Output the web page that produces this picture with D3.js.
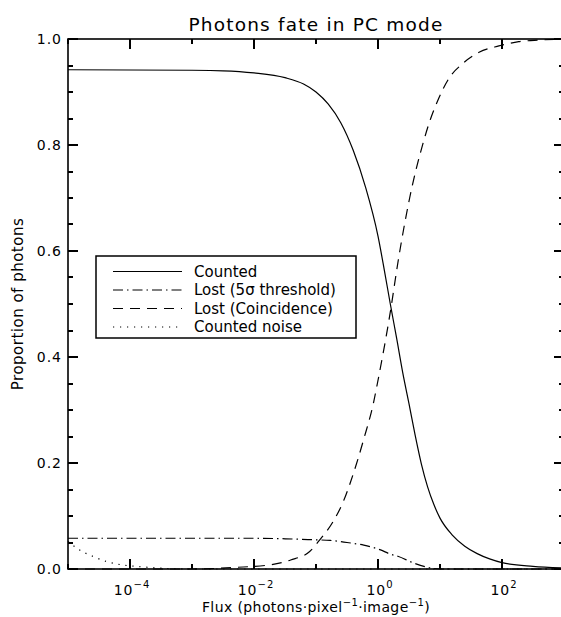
<!DOCTYPE html>
<html>
<head>
<meta charset="utf-8">
<script src="https://cdn.jsdelivr.net/npm/d3@7"></script>
<style>
  html, body { margin: 0; background: #fff; overflow: hidden; }
  text { font-family: "DejaVu Sans", sans-serif; fill: #000; }
</style>
</head>
<body>
<div id="chart"></div>
<script>
// values (flux in photons/pixel/image, proportion)
var countedFlux = [1e-5, 1e-3, 3.16e-3, 1e-2, 3.16e-2, 6.3e-2, 0.1, 0.158, 0.251, 0.398, 0.631, 1, 1.26, 1.58, 2.0, 2.51, 3.16, 3.98, 5.01, 6.31, 7.94, 10, 15.8, 25.1, 39.8, 63.1, 100, 316, 1000];
var countedVal  = [0.942, 0.941, 0.940, 0.936, 0.927, 0.915, 0.900, 0.877, 0.842, 0.790, 0.720, 0.628, 0.565, 0.50, 0.435, 0.37, 0.312, 0.252, 0.198, 0.155, 0.122, 0.096, 0.064, 0.043, 0.029, 0.019, 0.012, 0.005, 0.002];

var lostFlux = [1e-5, 1e-2, 3.2e-2, 0.1, 0.17, 0.316, 0.589, 1.1, 1.58, 2.09, 3.8, 7.08, 10, 1000];
var lostVal  = [0.058, 0.058, 0.057, 0.055, 0.054, 0.05, 0.045, 0.036, 0.028, 0.024, 0.011, 0.002, 0.0, 0.0];

var coincFlux = [1e-5, 1e-3, 5e-3, 1.86e-2, 3.9e-2, 7.9e-2, 0.115, 0.19, 0.282, 0.363, 0.589, 0.851, 0.977, 1.58, 2.14, 3.24, 5.5, 7.08, 9.55, 13.8, 23.4, 42.7, 89.1, 186, 398, 1000];
var coincVal  = [0.0, 0.0, 0.003, 0.008, 0.017, 0.033, 0.055, 0.09, 0.13, 0.165, 0.245, 0.315, 0.35, 0.485, 0.585, 0.70, 0.809, 0.85, 0.888, 0.925, 0.954, 0.975, 0.987, 0.995, 0.998, 1.0];

var noiseFlux = [1e-5, 1.58e-5, 2.5e-5, 4.2e-5, 7.2e-5, 1.26e-4, 2.7e-4, 1e-3, 1000];
var noiseVal  = [0.052, 0.035, 0.024, 0.014, 0.008, 0.005, 0.002, 0.0, 0.0];

var xMajor = [1e-4, 1e-2, 1, 100];
var xMinor = [1e-5, 1e-3, 1e-1, 10, 1000];
var xLabelExp = ["\u22124", "\u22122", "0", "2"];
var yMajor = [0, 0.2, 0.4, 0.6, 0.8, 1.0];
var yMinor = [0.05, 0.1, 0.15, 0.25, 0.3, 0.35, 0.45, 0.5, 0.55, 0.65, 0.7, 0.75, 0.85, 0.9, 0.95];

var seriesNames = ["Counted", "Lost (5\u03c3 threshold)", "Lost (Coincidence)", "Counted noise"];
var dashes = [null, "10,4,1.5,4", "10,7", "1.2,5.8"];

var W = 561, H = 617;
// plot box: the right axis sits just past the window edge, as in the picture
var pL = 68, pR = 564, pT = 39, pB = 569;

var svg = d3.select('#chart').append('svg')
  .attr('width', W).attr('height', H)
  .style('display', 'block');

var x = d3.scaleLog().domain([1e-5, 1e3]).range([pL, pR]);
var y = d3.scaleLinear().domain([0, 1]).range([pB, pT]);

// ticks point inward (IDL style) on all four sides
var ticks = svg.append('g')
  .attr('stroke', '#000').attr('stroke-width', 1.6)
  .attr('shape-rendering', 'crispEdges');
function xTicks(vals, len) {
  ticks.selectAll(null).data(vals).enter().append('line')
    .attr('x1', function(d) { return Math.round(x(d)); })
    .attr('x2', function(d) { return Math.round(x(d)); })
    .attr('y1', pB).attr('y2', pB - len);
  ticks.selectAll(null).data(vals).enter().append('line')
    .attr('x1', function(d) { return Math.round(x(d)); })
    .attr('x2', function(d) { return Math.round(x(d)); })
    .attr('y1', pT).attr('y2', pT + len);
}
function yTicks(vals, len) {
  ticks.selectAll(null).data(vals).enter().append('line')
    .attr('y1', function(d) { return Math.round(y(d)); })
    .attr('y2', function(d) { return Math.round(y(d)); })
    .attr('x1', pL).attr('x2', pL + len);
  ticks.selectAll(null).data(vals).enter().append('line')
    .attr('y1', function(d) { return Math.round(y(d)); })
    .attr('y2', function(d) { return Math.round(y(d)); })
    .attr('x1', pR).attr('x2', pR - len);
}
xTicks(xMajor, 10);
xTicks(xMinor, 5);
yTicks(yMajor, 10);
yTicks(yMinor, 5);

// frame
svg.append('rect')
  .attr('x', pL).attr('y', pT)
  .attr('width', pR - pL).attr('height', pB - pT)
  .attr('fill', 'none').attr('stroke', '#000').attr('stroke-width', 1.6);

// tick labels
svg.selectAll('.ylab').data(yMajor).enter().append('text')
  .attr('x', pL - 6).attr('y', function(d) { return y(d) + 5; })
  .attr('text-anchor', 'end')
  .style('font-size', '14px').style('letter-spacing', '1px')
  .text(function(d) { return d.toFixed(1); });

var xl = svg.selectAll('.xlab').data(xMajor).enter().append('text')
  .attr('x', function(d) { return x(d) + 2; }).attr('y', pB + 26)
  .attr('text-anchor', 'middle')
  .style('font-size', '14px').style('letter-spacing', '1px');
xl.append('tspan').text('10');
xl.append('tspan').attr('dy', -7).style('font-size', '10px')
  .text(function(d, i) { return xLabelExp[i]; });

// titles
svg.append('text').attr('x', (pL + pR) / 2).attr('y', 31)
  .attr('text-anchor', 'middle')
  .style('font-size', '18.5px').style('letter-spacing', '1.2px')
  .text('Photons fate in PC mode');

var xt = svg.append('text').attr('x', (pL + pR) / 2).attr('y', 612)
  .attr('text-anchor', 'middle')
  .style('font-size', '14px').style('letter-spacing', '0.4px');
xt.append('tspan').text('Flux (photons\u00b7pixel');
xt.append('tspan').attr('dy', -6).style('font-size', '10px').text('\u22121');
xt.append('tspan').attr('dy', 6).text('\u00b7image');
xt.append('tspan').attr('dy', -6).style('font-size', '10px').text('\u22121');
xt.append('tspan').attr('dy', 6).text(')');

svg.append('text')
  .attr('transform', 'translate(23,' + (pT + pB) / 2 + ') rotate(-90)')
  .attr('text-anchor', 'middle')
  .style('font-size', '15px').style('letter-spacing', '0.5px')
  .text('Proportion of photons');

// curves
var line = d3.line()
  .x(function(d) { return x(d[0]); })
  .y(function(d) { return y(d[1]); })
  .curve(d3.curveMonotoneX);

var series = [
  d3.zip(countedFlux, countedVal),
  d3.zip(lostFlux, lostVal),
  d3.zip(coincFlux, coincVal),
  d3.zip(noiseFlux, noiseVal)
];

var plot = svg.append('g');
series.forEach(function(s, i) {
  plot.append('path')
    .datum(s)
    .attr('d', line)
    .attr('fill', 'none')
    .attr('stroke', '#000')
    .attr('stroke-width', 1.2)
    .attr('stroke-dasharray', dashes[i]);
});

// legend
var lg = svg.append('g');
lg.append('rect')
  .attr('x', 96).attr('y', 256).attr('width', 260).attr('height', 82)
  .attr('fill', '#fff').attr('stroke', '#000').attr('stroke-width', 1.5);
seriesNames.forEach(function(name, i) {
  var yy = 271.5 + i * 18.5;
  lg.append('line')
    .attr('x1', 113).attr('x2', 182).attr('y1', yy).attr('y2', yy)
    .attr('stroke', '#000').attr('stroke-width', 1.2)
    .attr('stroke-dasharray', dashes[i]);
  lg.append('text').attr('x', 194).attr('y', yy + 5)
    .style('font-size', '15px')
    .text(name);
});
</script>
</body>
</html>
